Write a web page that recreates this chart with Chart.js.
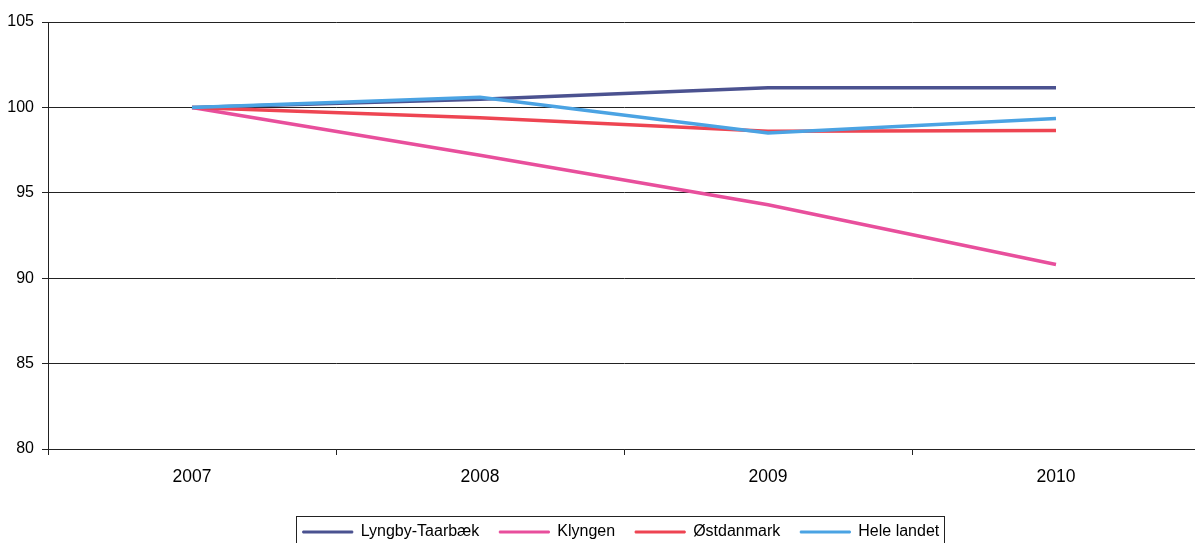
<!DOCTYPE html>
<html>
<head>
<meta charset="utf-8">
<script src="https://cdn.jsdelivr.net/npm/chart.js@4"></script>
<style>
  html, body { margin: 0; padding: 0; background: #fff; overflow: hidden; }
  #wrap { position: absolute; left: 0; top: 0; width: 1195px; height: 543px; overflow: hidden; }
  canvas { display: block; }
</style>
</head>
<body>
<div id="wrap"><canvas id="c" width="1200" height="550"></canvas></div>
<script>
const categories = ['2007', '2008', '2009', '2010'];
const lyngby = [100, 100.47, 101.15, 101.15];
const klyngen = [100, 97.2, 94.3, 90.8];
const ostdanmark = [100, 99.4, 98.6, 98.65];
const heleLandet = [100, 100.6, 98.5, 99.35];
const seriesNames = ['Lyngby-Taarbæk', 'Klyngen', 'Østdanmark', 'Hele landet'];
const yTicks = [80, 85, 90, 95, 100, 105];

const colors = ['#4b5290', '#e84f9c', '#ee4552', '#4ba3e3'];
const orders = [3, 2, 1, 0];
const seriesData = [lyngby, klyngen, ostdanmark, heleLandet];

const legendShift = {
  id: 'legendShift',
  afterLayout(chart) {
    if (chart.legend) { chart.legend.left += 21; chart.legend.right += 21; }
  }
};

const legendBorder = {
  id: 'legendBorder',
  afterDraw(chart) {
    const boxes = chart.legend && chart.legend.legendHitBoxes;
    if (!boxes || !boxes.length) return;
    let l = Infinity, r = -Infinity, t = Infinity, b = -Infinity;
    boxes.forEach(h => { l = Math.min(l, h.left); r = Math.max(r, h.left + h.width); t = Math.min(t, h.top); b = Math.max(b, h.top + h.height); });
    const ctx = chart.ctx;
    ctx.save();
    ctx.strokeStyle = '#222';
    ctx.lineWidth = 1;
    ctx.strokeRect(Math.round(l - 7) + 0.5, Math.round(t - 8) + 0.5, Math.round(r - l + 12), Math.round(b - t + 16));
    ctx.restore();
  }
};

new Chart(document.getElementById('c'), {
  type: 'line',
  data: {
    labels: categories,
    datasets: seriesData.map((d, i) => ({
      label: seriesNames[i],
      data: d,
      borderColor: colors[i],
      backgroundColor: colors[i],
      borderWidth: 3.5,
      pointRadius: 0,
      tension: 0,
      order: orders[i]
    }))
  },
  options: {
    responsive: false,
    animation: false,
    layout: { padding: { top: 22, left: 0, right: 0, bottom: 0 } },
    plugins: {
      tooltip: { enabled: false },
      legend: {
        position: 'bottom',
        labels: {
          color: '#000',
          font: { family: 'Liberation Sans, Arial, sans-serif', size: 16 },
          boxWidth: 50,
          boxHeight: 2,
          padding: 20,
          sort: (a, b) => a.datasetIndex - b.datasetIndex,
          generateLabels: (chart) => Chart.defaults.plugins.legend.labels.generateLabels(chart).map(it => ({ ...it, lineWidth: 1, fillStyle: it.strokeStyle }))
        }
      }
    },
    scales: {
      x: {
        offset: true,
        grid: { display: true, offset: true, drawOnChartArea: false, drawTicks: true, tickLength: 6, color: '#222' },
        border: { display: true, color: '#222', width: 1 },
        ticks: { color: '#000', font: { family: 'Liberation Sans, Arial, sans-serif', size: 17.5 }, padding: 12 },
        afterFit: (axis) => { axis.height = 55; }
      },
      y: {
        min: 80,
        max: 105,
        afterBuildTicks: (axis) => { axis.ticks = yTicks.map(v => ({ value: v })); },
        grid: { color: '#222', lineWidth: 1, tickLength: 6, drawTicks: true },
        border: { display: true, color: '#222', width: 1 },
        ticks: { color: '#000', font: { family: 'Liberation Sans, Arial, sans-serif', size: 16 }, padding: 8 },
        afterFit: (axis) => { axis.width = 48; }
      }
    }
  },
  plugins: [legendShift, legendBorder]
});
</script>
</body>
</html>
